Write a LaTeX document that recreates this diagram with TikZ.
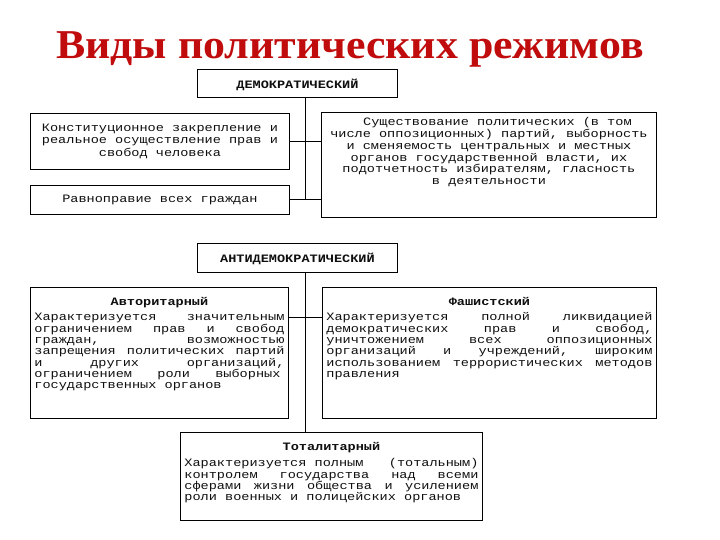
\documentclass[tikz,border=0pt]{standalone}
\usepackage{fontspec}
\setmainfont{Liberation Serif}
\newfontfamily\monof[FakeStretch=1.2]{Liberation Mono}
\newfontfamily\titlef[FakeStretch=1.07]{Liberation Serif}
\usetikzlibrary{calc}
\definecolor{titlered}{RGB}{192,12,12}
\definecolor{ink}{RGB}{15,15,15}
\newcommand{\bxt}[4]{\begin{minipage}[t][#1][t]{#2}\vspace*{#3}#4\end{minipage}}
\newcommand{\hd}[1]{\centerline{\bfseries #1}\par}
\tikzset{
  x=1pt, y=-1pt,
  regbox/.style={draw=black, line width=0.9pt, inner ysep=0pt, inner xsep=4pt, anchor=north west,
    font=\monof\fontsize{11.3}{11.3}\selectfont, text=ink},
  conn/.style={draw=black, line width=0.9pt},
  titletext/.style={font=\titlef\fontsize{41}{45}\selectfont\bfseries, text=titlered, anchor=base, inner sep=0pt}
}
\begin{document}
\begin{tikzpicture}
\useasboundingbox (0,0) rectangle (720,540);
\fill[white] (0,0) rectangle (720,540);

\node[titletext] (title) at (350,59) {Виды политических режимов};

% top group
\node[regbox, inner xsep=0pt] (demo) at (197,69) {\bxt{28pt}{200pt}{9.5pt}{\centering\bfseries ДЕМОКРАТИЧЕСКИЙ\par}};
\node[regbox, inner xsep=0pt] (lone) at (30,113) {\bxt{56pt}{259pt}{10.5pt}{\centering\fontsize{11.3}{12.6}\selectfont
Конституционное закрепление и\par
реальное осуществление прав и\par
свобод человека\par}};
\node[regbox, inner xsep=0pt] (ltwo) at (30,185) {\bxt{29pt}{259pt}{10pt}{\centering Равноправие всех граждан\par}};
\node[regbox, inner xsep=0pt] (rone) at (321,112) {\bxt{105pt}{335pt}{5pt}{\centering\fontsize{11.3}{11.8}\selectfont
\hspace*{1.5em}Существование политических (в том\par
числе оппозиционных) партий, выборность\par
и сменяемость центральных и местных\par
органов государственной власти, их\par
подотчетность избирателям, гласность\par
в деятельности\par}};

\coordinate (spa) at (305,199);
\draw[conn] (demo.south -| spa) -- (spa);
\draw[conn] (lone.east) -- (lone.east -| rone.west);
\draw[conn] (ltwo.east |- spa) -- (rone.west |- spa);

% bottom group
\node[regbox, inner xsep=0pt] (anti) at (197,243) {\bxt{29pt}{200pt}{10pt}{\centering\bfseries АНТИДЕМОКРАТИЧЕСКИЙ\par}};
\node[regbox] (avt) at (30,287) {\bxt{131pt}{250pt}{9.5pt}{\hd{Авторитарный}\vspace{4.5pt}
Характеризуется\hfill значительным\par
ограничением\hfill прав\hfill и\hfill свобод\par
граждан,\hfill возможностью\par
запрещения\hfill политических\hfill партий\par
и\hfill других\hfill организаций,\par
ограничением\hfill роли\hfill выборных\hspace*{4pt}\par
государственных органов\par}};
\node[regbox] (fas) at (322,287) {\bxt{131pt}{326pt}{9.5pt}{\hd{Фашистский}\vspace{4.5pt}
Характеризуется\hfill полной\hfill ликвидацией\par
демократических\hfill прав\hfill и\hfill свобод,\par
уничтожением\hfill всех\hfill оппозиционных\par
организаций\hfill и\hfill учреждений,\hfill широким\par
использованием\hfill террористических\hfill методов\par
правления\par}};
\node[regbox] (tot) at (180,432) {\bxt{88pt}{294pt}{9.5pt}{\hd{Тоталитарный}\vspace{5.5pt}
Характеризуется полным\hfill (тотальным)\par
контролем\hfill государства\hfill над\hfill всеми\par
сферами\hfill жизни\hfill общества\hfill и\hfill усилением\par
роли военных и полицейских органов\par}};

\coordinate (spb) at (305,317);
\draw[conn] (anti.south -| spb) -- (tot.north -| spb);
\draw[conn] (avt.east |- spb) -- (fas.west |- spb);
\end{tikzpicture}
\end{document}
